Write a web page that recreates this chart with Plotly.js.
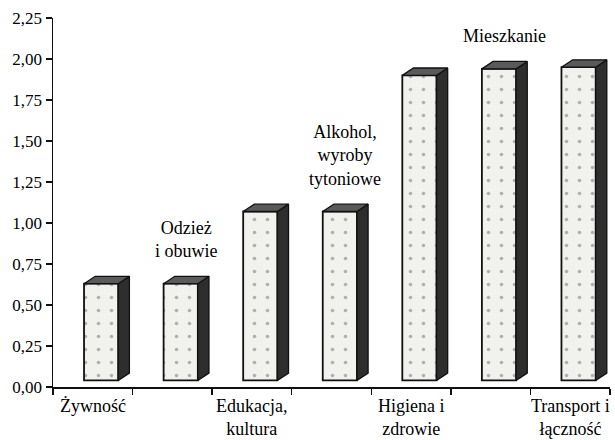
<!DOCTYPE html>
<html>
<head>
<meta charset="utf-8">
<script src="https://cdn.plot.ly/plotly-3.0.1.min.js"></script>
<style>html,body{margin:0;padding:0;background:#fff;}#chart{width:615px;height:440px;}</style>
</head>
<body>
<div id="chart"></div>
<script>
// ---- data ----
const categories = ['Żywność', 'Odzież i obuwie', 'Edukacja, kultura', 'Alkohol, wyroby tytoniowe', 'Higiena i zdrowie', 'Mieszkanie', 'Transport i łączność'];
const labelTexts = ['Żywność', 'Odzież<br>i obuwie', 'Edukacja,<br>kultura', 'Alkohol,<br>wyroby<br>tytoniowe', 'Higiena i<br>zdrowie', 'Mieszkanie', 'Transport i<br>łączność'];
const labelPlacement = ['below', 'above', 'below', 'above', 'below', 'above', 'below'];
const values = [0.63, 0.63, 1.07, 1.07, 1.90, 1.94, 1.95];
const yTickValues = [0, 0.25, 0.5, 0.75, 1.0, 1.25, 1.5, 1.75, 2.0, 2.25];

// ---- style / geometry constants (pseudo-3D look) ----
const FRONT_OFFSET = -0.11;  // left edge of front face relative to category centre
const FRONT_WIDTH = 0.43;
const DEPTH_X = 0.14;
const DEPTH_Y = 0.045;
const LIFT = 0.04;           // bars float slightly above the axis
const FONT = 'Liberation Serif, Times New Roman, serif';

const idx = categories.map((_, i) => i);

// front faces as bar trace
const frontTrace = {
  type: 'bar',
  x: idx,
  y: values.map(v => v - LIFT),
  base: values.map(() => LIFT),
  width: FRONT_WIDTH,
  offset: FRONT_OFFSET,
  marker: {
    color: '#f1f1ee',
    line: {color: '#111', width: 1.8},
    pattern: {shape: '.', fgcolor: '#b0b0b0', bgcolor: '#f1f1ee', size: 13, solidity: 0.06}
  },
  hoverinfo: 'skip',
  showlegend: false
};

// side and top faces built from the same data
const sideX = [], sideY = [], topX = [], topY = [];
values.forEach((v, i) => {
  const xl = i + FRONT_OFFSET;
  const xr = xl + FRONT_WIDTH;
  sideX.push(xr, xr + DEPTH_X, xr + DEPTH_X, xr, xr, null);
  sideY.push(LIFT, LIFT + DEPTH_Y, v + DEPTH_Y, v, LIFT, null);
  topX.push(xl, xl + DEPTH_X, xr + DEPTH_X, xr, xl, null);
  topY.push(v, v + DEPTH_Y, v + DEPTH_Y, v, v, null);
});
const sideTrace = {
  type: 'scatter', mode: 'lines', x: sideX, y: sideY, fill: 'toself',
  fillcolor: '#2e2e2e', line: {color: '#111', width: 1.3},
  hoverinfo: 'skip', showlegend: false
};
const topTrace = {
  type: 'scatter', mode: 'lines', x: topX, y: topY, fill: 'toself',
  fillcolor: '#5a5a5a', line: {color: '#111', width: 1.3},
  hoverinfo: 'skip', showlegend: false
};

const annotations = idx.map(i => {
  const below = labelPlacement[i] === 'below';
  return below ? {
    x: i, y: 0, xref: 'x', yref: 'y', text: labelTexts[i], showarrow: false,
    xanchor: 'center', yanchor: 'top', yshift: -7,
    font: {family: FONT, size: 18, color: '#000'}, align: 'center'
  } : {
    x: i + FRONT_OFFSET + (FRONT_WIDTH + DEPTH_X) / 2, y: values[i], xref: 'x', yref: 'y',
    text: labelTexts[i], showarrow: false,
    xanchor: 'center', yanchor: 'bottom', yshift: 21,
    font: {family: FONT, size: 18, color: '#000'}, align: 'center'
  };
});

const boundaries = [];
for (let i = 0; i <= categories.length; i++) boundaries.push(i - 0.5);

const layout = {
  width: 615, height: 440,
  margin: {l: 53, r: 5, t: 18, b: 53},
  paper_bgcolor: '#ffffff', plot_bgcolor: '#ffffff',
  separators: ',.',
  showlegend: false,
  xaxis: {
    type: 'linear', range: [-0.5, categories.length - 0.5],
    tickvals: boundaries, ticktext: boundaries.map(() => ''),
    ticks: 'outside', ticklen: 6, tickwidth: 1.5, tickcolor: '#111',
    showline: true, linecolor: '#111', linewidth: 1.5,
    showgrid: false, zeroline: false, fixedrange: true
  },
  yaxis: {
    range: [0, 2.25], tickvals: yTickValues, tickformat: '.2f',
    ticks: 'outside', ticklen: 6, tickwidth: 1.5, tickcolor: '#111',
    ticklabelstandoff: 0,
    showline: true, linecolor: '#111', linewidth: 1.5,
    showgrid: false, zeroline: false, fixedrange: true,
    tickfont: {family: FONT, size: 17, color: '#000'}
  },
  annotations: annotations
};

Plotly.newPlot('chart', [frontTrace, sideTrace, topTrace], layout, {staticPlot: true, displayModeBar: false});
</script>
</body>
</html>
